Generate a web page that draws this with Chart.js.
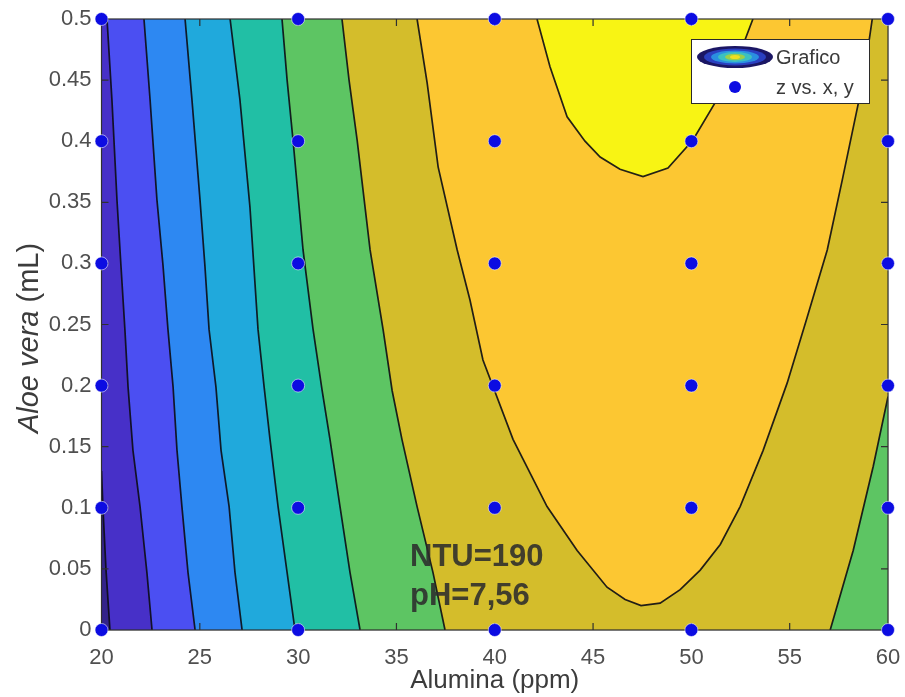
<!DOCTYPE html>
<html>
<head>
<meta charset="utf-8">
<title>Alumina / Aloe vera</title>
<script src="https://cdn.jsdelivr.net/npm/chart.js@4.4.1/dist/chart.umd.min.js"></script>
<style>
  html, body { margin: 0; padding: 0; background: #fff; }
  #wrap { width: 905px; height: 697px; }
</style>
</head>
<body>
<div id="wrap"><canvas id="mycanvas" width="905" height="697"></canvas></div>
<script>
// sampled design points
var alumina = [20, 30, 40, 50, 60];
var aloe = [0, 0.1, 0.2, 0.3, 0.4, 0.5];

var xTicks = [20, 25, 30, 35, 40, 45, 50, 55, 60];
var xTickLabels = ['20', '25', '30', '35', '40', '45', '50', '55', '60'];
var yTicks = [0, 0.05, 0.1, 0.15, 0.2, 0.25, 0.3, 0.35, 0.4, 0.45, 0.5];
var yTickLabels = ['0', '0.05', '0.1', '0.15', '0.2', '0.25', '0.3', '0.35', '0.4', '0.45', '0.5'];

// contour lines of the fitted surface, [alumina, aloe] pairs, low -> high
var c1 = [[20, 0.13], [20.08, 0.098], [20.23, 0.049], [20.43, 0]];
var c2 = [[20.28, 0.5], [20.53, 0.434], [20.79, 0.351], [20.99, 0.298], [21.19, 0.246],
          [21.35, 0.199], [21.60, 0.147], [21.96, 0.101], [22.31, 0.047], [22.57, 0]];
var c3 = [[22.16, 0.5], [22.47, 0.434], [22.82, 0.352], [23.13, 0.298], [23.38, 0.246],
          [23.64, 0.199], [23.84, 0.147], [24.09, 0.101], [24.40, 0.047], [24.76, 0]];
var c4 = [[24.25, 0.5], [24.60, 0.434], [25.01, 0.352], [25.26, 0.298], [25.47, 0.246],
          [25.82, 0.199], [26.08, 0.147], [26.49, 0.101], [26.79, 0.047], [27.15, 0]];
var c5 = [[26.54, 0.5], [27.04, 0.434], [27.55, 0.346], [27.96, 0.246], [28.27, 0.199],
          [28.57, 0.156], [28.98, 0.101], [29.44, 0.047], [29.84, 0]];
var c6 = [[29.18, 0.5], [29.44, 0.45], [29.74, 0.401], [30.25, 0.311], [30.76, 0.246],
          [31.22, 0.196], [31.62, 0.156], [32.13, 0.101], [32.64, 0.047], [33.15, 0]];
var c7 = [[32.23, 0.5], [32.59, 0.45], [33.00, 0.401], [33.66, 0.311], [34.32, 0.246],
          [34.78, 0.196], [35.28, 0.156], [36.05, 0.101], [36.86, 0.047], [37.47, 0]];
var c7b = [[57.06, 0], [58.23, 0.065], [59.25, 0.134], [60, 0.191]];
var c8 = [[36.05, 0.5], [36.56, 0.448], [37.12, 0.379], [38.09, 0.311], [38.74, 0.270],
          [39.40, 0.221], [40.93, 0.156], [42.66, 0.101], [44.19, 0.065], [45.71, 0.035],
          [46.63, 0.025], [47.44, 0.020], [48.41, 0.022], [49.43, 0.033], [50.45, 0.049],
          [51.47, 0.070], [52.48, 0.101], [53.65, 0.147], [54.87, 0.202], [55.89, 0.256],
          [56.91, 0.311], [57.67, 0.368], [58.49, 0.431], [58.90, 0.467], [59.20, 0.5]];
var c9 = [[42.15, 0.5], [42.81, 0.461], [43.68, 0.420], [44.59, 0.400], [45.36, 0.387],
          [46.37, 0.377], [47.54, 0.371], [48.81, 0.378], [50.08, 0.401], [51.30, 0.434],
          [52.47, 0.472], [53.13, 0.5]];

var bandColors = ['#33238a', '#4730c8', '#4b4ff2', '#2d88f2', '#20a9dc',
                  '#21bfa5', '#5dc563', '#d4bd2b', '#fcc732', '#f8f414'];

var X0 = 20, X1 = 60, Y0 = 0, Y1 = 0.5;

function pts(arr) {
    return arr.map(function(p){ return {x: p[0], y: p[1]}; });
}

// filled regions (superlevel sets), painted bottom-up
var regions = [
    [[X0, Y0], [X1, Y0], [X1, Y1], [X0, Y1]],
    c1.concat([[X1, Y0], [X1, Y1], [X0, Y1]]),
    c2.concat([[X1, Y0], [X1, Y1]]),
    c3.concat([[X1, Y0], [X1, Y1]]),
    c4.concat([[X1, Y0], [X1, Y1]]),
    c5.concat([[X1, Y0], [X1, Y1]]),
    c6.concat([[X1, Y0], [X1, Y1]]),
    c7.concat(c7b, [[X1, Y1]]),
    c8,
    c9
];

var datasets = [];

var grid = [];
alumina.forEach(function(a){
    aloe.forEach(function(b){ grid.push({x: a, y: b}); });
});
datasets.push({
    label: 'z vs. x, y',
    data: grid,
    showLine: false,
    pointRadius: 6.5,
    pointBackgroundColor: '#0c0ce2',
    pointBorderColor: 'rgba(255,255,255,0.55)',
    pointBorderWidth: 1,
    clip: false,
    order: 0
});

[c1, c2, c3, c4, c5, c6, c7, c7b, c8, c9].forEach(function(c){
    datasets.push({
        label: 'Grafico',
        data: pts(c),
        borderColor: 'rgba(12,12,20,0.9)',
        borderWidth: 1.7,
        pointRadius: 0,
        fill: false,
        tension: 0,
        order: 1
    });
});

regions.forEach(function(r, i){
    datasets.push({
        label: 'Grafico',
        data: pts(r),
        borderWidth: 0,
        borderColor: 'transparent',
        backgroundColor: bandColors[i],
        pointRadius: 0,
        fill: 'shape',
        tension: 0,
        order: 30 - i
    });
});

var tickFont = {family: '"Liberation Sans", Arial, sans-serif', size: 22};
var gridColor = 'rgba(0,0,0,0.1)';

// legend icon for the contour entry
function contourIcon() {
    var cv = document.createElement('canvas');
    cv.width = 78; cv.height = 24;
    var g = cv.getContext('2d');
    var rings = [[38, 11, '#1b1664'], [31, 8.5, '#2a3fc0'], [24, 6.5, '#2a8fe0'],
                 [17, 5, '#3cc0c0'], [10, 3.2, '#9ccf4a'], [5, 2, '#f0e020']];
    rings.forEach(function(r){
        g.beginPath();
        g.ellipse(39, 12, r[0], r[1], 0, 0, Math.PI * 2);
        g.fillStyle = r[2];
        g.fill();
    });
    return cv;
}
var iconCanvas = contourIcon();

var notes = [
    {text: 'NTU=190', x: 35.69, y: 0.052},
    {text: 'pH=7,56', x: 35.69, y: 0.0205}
];

var decor = {
    id: 'decor',
    beforeDatasetDraw: function(chart, args) {
        if (args.index !== 0) return;
        var ctx = chart.ctx, a = chart.chartArea;
        var sx = chart.scales.x, sy = chart.scales.y;
        ctx.save();
        // annotation
        ctx.font = 'bold 31px "Liberation Sans", Arial, sans-serif';
        ctx.fillStyle = 'rgba(44,44,44,0.88)';
        ctx.textBaseline = 'alphabetic';
        ctx.textAlign = 'left';
        notes.forEach(function(n){
            ctx.fillText(n.text, sx.getPixelForValue(n.x), sy.getPixelForValue(n.y));
        });
        // axes box with inward ticks
        ctx.strokeStyle = '#303030';
        ctx.lineWidth = 1.2;
        ctx.strokeRect(a.left, a.top, a.right - a.left, a.bottom - a.top);
        ctx.beginPath();
        xTicks.forEach(function(v){
            var px = sx.getPixelForValue(v);
            ctx.moveTo(px, a.bottom); ctx.lineTo(px, a.bottom - 7);
            ctx.moveTo(px, a.top); ctx.lineTo(px, a.top + 7);
        });
        yTicks.forEach(function(v){
            var py = sy.getPixelForValue(v);
            ctx.moveTo(a.left, py); ctx.lineTo(a.left + 7, py);
            ctx.moveTo(a.right, py); ctx.lineTo(a.right - 7, py);
        });
        ctx.stroke();
        ctx.restore();
    },
    afterDraw: function(chart) {
        var ctx = chart.ctx;
        ctx.save();
        // y axis title, species name in italics
        var parts = [['Aloe vera', 'italic'], [' (mL)', 'normal']];
        ctx.translate(30, 338);
        ctx.rotate(-Math.PI / 2);
        ctx.textBaseline = 'middle';
        ctx.textAlign = 'left';
        ctx.fillStyle = '#3c3c3c';
        var total = 0;
        parts.forEach(function(p){
            ctx.font = p[1] + ' 29px "Liberation Sans", Arial, sans-serif';
            total += ctx.measureText(p[0]).width;
        });
        var cx = -total / 2;
        parts.forEach(function(p){
            ctx.font = p[1] + ' 29px "Liberation Sans", Arial, sans-serif';
            ctx.fillText(p[0], cx, 0);
            cx += ctx.measureText(p[0]).width;
        });
        ctx.restore();

        // legend
        ctx.save();
        ctx.fillStyle = '#ffffff';
        ctx.fillRect(691, 39, 178, 64);
        ctx.strokeStyle = '#2b2b2b';
        ctx.lineWidth = 1;
        ctx.strokeRect(691.5, 39.5, 178, 64);
        ctx.drawImage(iconCanvas, 696, 45);
        ctx.beginPath();
        ctx.arc(735, 87, 6, 0, Math.PI * 2);
        ctx.fillStyle = '#0c0ce2';
        ctx.fill();
        ctx.font = '20px "Liberation Sans", Arial, sans-serif';
        ctx.fillStyle = '#3a3a3a';
        ctx.textBaseline = 'middle';
        ctx.fillText(chart.data.datasets[1].label, 776, 58);
        ctx.fillText(chart.data.datasets[0].label, 776, 88);
        ctx.restore();
    }
};

var ctx = document.getElementById('mycanvas');
var chart = new Chart(ctx, {
    type: 'line',
    data: { datasets: datasets },
    options: {
        responsive: false,
        animation: false,
        events: [],
        layout: { padding: { left: 0, right: 17, top: 19, bottom: 0 } },
        plugins: {
            legend: { display: false },
            tooltip: { enabled: false }
        },
        scales: {
            x: {
                type: 'linear',
                min: X0, max: X1,
                z: 1,
                afterFit: function(axis){
                    axis.height = 67;
                    axis.paddingLeft = 0;
                    axis.paddingRight = 0;
                },
                afterBuildTicks: function(axis){
                    axis.ticks = xTicks.map(function(v){ return {value: v}; });
                },
                grid: { color: gridColor, drawTicks: false },
                border: { display: false },
                ticks: {
                    font: tickFont, color: '#4f4f4f', padding: 15,
                    maxRotation: 0, autoSkip: false,
                    callback: function(v, i){ return xTickLabels[i]; }
                },
                title: {
                    display: true, text: 'Alumina (ppm)', color: '#3c3c3c',
                    font: {family: '"Liberation Sans", Arial, sans-serif', size: 26},
                    padding: {top: 0, bottom: 1}
                }
            },
            y: {
                type: 'linear',
                min: Y0, max: Y1,
                z: 1,
                afterFit: function(axis){
                    axis.width = 101.5;
                    axis.paddingTop = 0;
                    axis.paddingBottom = 0;
                },
                afterBuildTicks: function(axis){
                    axis.ticks = yTicks.map(function(v){ return {value: v}; });
                },
                grid: { color: gridColor, drawTicks: false },
                border: { display: false },
                ticks: {
                    font: tickFont, color: '#4f4f4f', padding: 10,
                    autoSkip: false,
                    callback: function(v, i){ return yTickLabels[i]; }
                }
            }
        }
    },
    plugins: [decor]
});
</script>
</body>
</html>
